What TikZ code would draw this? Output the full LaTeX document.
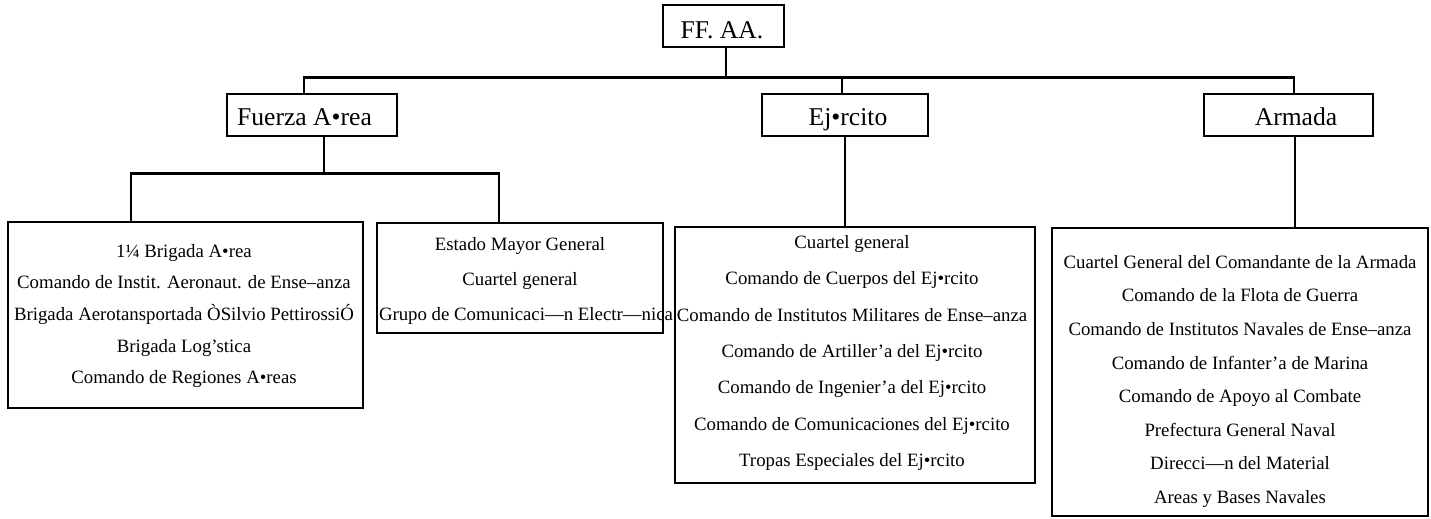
\documentclass[tikz,border=0pt]{standalone}
\usepackage{fontspec}
\setmainfont{Liberation Serif}
\usetikzlibrary{fit}

\tikzset{
  unit/.style={draw, line width=2pt, inner sep=0pt},
  head/.style={font=\fontsize{19.2}{23}\selectfont, anchor=base, inner sep=0pt},
  list/.style={anchor=north, align=center, inner sep=0pt},
  wire/.style={line width=2pt}
}

\begin{document}
\begin{tikzpicture}[x=0.75pt,y=-0.75pt]
	\useasboundingbox (0,0) rectangle (1431,518);
	% top level and branches
	\node[unit, fit={(663,5) (784,47)}] (ff) {};
	\node[head] (ffT) at (722,38) {FF. AA.};
	\node[unit, fit={(227,94) (397,136)}] (fa) {};
	\node[head] (faT) at (304.5,125) {Fuerza A•rea};
	\node[unit, fit={(762,94) (928,136)}] (ej) {};
	\node[head] (ejT) at (848,125) {Ej•rcito};
	\node[unit, fit={(1204,94) (1373,136)}] (ar) {};
	\node[head] (arT) at (1296,125) {Armada};

	% units
	\node[unit, fit={(8,222) (363,408)}] (fa1) {};
	\node[list, font=\fontsize{14.1}{23.7}\selectfont] (fa1T) at (184,244)
		{1¼ Brigada A•rea\\Comando de Instit. Aeronaut. de Ense–anza\\Brigada Aerotansportada ÒSilvio PettirossiÓ\\Brigada Log’stica\\Comando de Regiones A•reas};
	\node[unit, fit={(377,223) (663,333)}] (fa2) {};
	\node[list, font=\fontsize{14.1}{26.5}\selectfont] (fa2T) at (520,237)
		{Estado Mayor General\\Cuartel general\\\makebox[211.5pt][l]{Grupo de Comunicaci—n Electr—nica}};
	\node[unit, fit={(675,227) (1035,483)}] (ej1) {};
	\node[list, font=\fontsize{14.1}{27.3}\selectfont] (ej1T) at (852,235)
		{Cuartel general\\Comando de Cuerpos del Ej•rcito\\Comando de Institutos Militares de Ense–anza\\Comando de Artiller’a del Ej•rcito\\Comando de Ingenier’a del Ej•rcito\\Comando de Comunicaciones del Ej•rcito\\Tropas Especiales del Ej•rcito};
	\node[unit, fit={(1052,228) (1428,516)}] (ar1) {};
	\node[list, font=\fontsize{14.1}{25.2}\selectfont] (ar1T) at (1240,255)
		{Cuartel General del Comandante de la Armada\\Comando de la Flota de Guerra\\Comando de Institutos Navales de Ense–anza\\Comando de Infanter’a de Marina\\Comando de Apoyo al Combate\\Prefectura General Naval\\Direcci—n del Material\\Areas y Bases Navales};

	% lines
	\draw[wire] ([xshift=1.9pt]ff.south) -- ++(0,29) coordinate (ffbus);
	\draw[wire] (ffbus) -| ([xshift=-6pt]fa.north);
	\draw[wire] (ffbus) -| ([xshift=-2.25pt]ej.north);
	\draw[wire] (ffbus) -| ([xshift=4.1pt]ar.north);
	\draw[wire] ([xshift=9pt]fa.south) -- ++(0,36) coordinate (fabus);
	\draw[wire] (fabus) -| ([xshift=-40.9pt]fa1.north);
	\draw[wire] (fabus) -| ([xshift=-15.75pt]fa2.north);
	\draw[wire] (ej.south) -- (ej.south |- ej1.north);
	\draw[wire] ([xshift=4.9pt]ar.south) -- ([xshift=4.9pt]ar.south |- ar1.north);
\end{tikzpicture}
\end{document}
